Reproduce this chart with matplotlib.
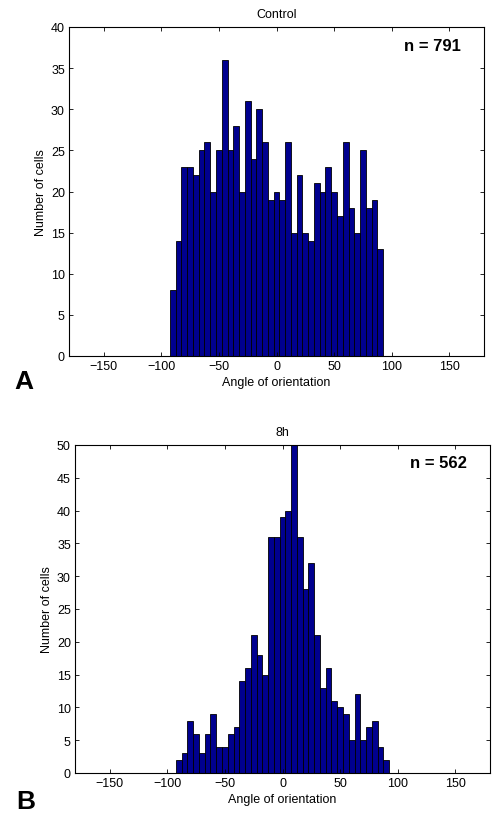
######################################################
# HISTOGRAMAS DE ORIENTAÇÃO - Control vs 8h
######################################################
import matplotlib.pyplot as plt

######## Dados ########
bin_centers = [-90, -85, -80, -75, -70, -65, -60, -55, -50, -45, -40, -35, -30,
               -25, -20, -15, -10, -5, 0, 5, 10, 15, 20, 25, 30, 35, 40, 45,
               50, 55, 60, 65, 70, 75, 80, 85, 90]

counts_control = [8, 14, 23, 23, 22, 25, 26, 20, 25, 36, 25, 28, 20, 31, 24, 30,
                  26, 19, 20, 19, 26, 15, 22, 15, 14, 21, 20, 23, 20, 17, 26, 18,
                  15, 25, 18, 19, 13]

counts_8h = [2, 3, 8, 6, 3, 6, 9, 4, 4, 6, 7, 14, 16, 21, 18, 15, 36, 36, 39, 40,
             50, 36, 28, 32, 21, 13, 16, 11, 10, 9, 5, 12, 5, 7, 8, 4, 2]

titles = ["Control", "8h"]
n_labels = ["n = 791", "n = 562"]
panel_letters = ["A", "B"]
ymax = [40, 50]
xticks = [-150, -100, -50, 0, 50, 100, 150]

plt.rcParams["font.family"] = ["Liberation Sans", "DejaVu Sans"]
plt.rcParams["font.size"] = 9

W, H = 493, 820
fig = plt.figure(figsize=(W / 100, H / 100), dpi=100)

# posições dos eixos em pixels: (esquerda, topo, direita, base)
boxes = [(69, 28, 484, 357), (75, 446, 490, 774)]
letter_pos = [(24, 382), (26, 802)]

for i, counts in enumerate([counts_control, counts_8h]):
    l, t, r, b = boxes[i]
    ax = fig.add_axes([l / W, 1 - b / H, (r - l) / W, (b - t) / H])
    ax.bar(bin_centers, counts, width=5, color="#00008F",
           edgecolor="black", linewidth=0.6)
    ax.set_xlim(-180, 180)
    ax.set_ylim(0, ymax[i])
    ax.set_xticks(xticks)
    ax.set_xticklabels([str(x).replace("-", "\u2212") for x in xticks])
    ax.set_yticks(range(0, ymax[i] + 1, 5))
    ax.tick_params(direction="in", top=True, right=True, length=3,
                   width=0.6, pad=3, labelsize=9)
    for s in ax.spines.values():
        s.set_linewidth(0.8)
    ax.set_title(titles[i], fontsize=9, pad=7.5)
    ax.set_xlabel("Angle of orientation", fontsize=9, labelpad=3)
    ax.set_ylabel("Number of cells", fontsize=9, labelpad=3)
    ax.text(0.945, 0.968, n_labels[i], transform=ax.transAxes,
            ha="right", va="top", fontsize=12, fontweight="bold")
    fig.text(letter_pos[i][0] / W, 1 - letter_pos[i][1] / H, panel_letters[i],
             ha="center", va="center", fontsize=19, fontweight="bold")

fig.savefig("out.png", dpi=100)
